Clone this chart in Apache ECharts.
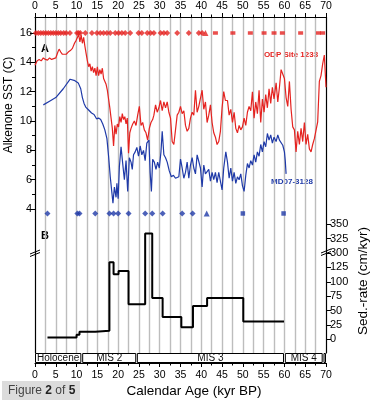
<!DOCTYPE html>
<html>
<head>
<meta charset="utf-8">
<script src="https://cdn.jsdelivr.net/npm/echarts@6/dist/echarts.min.js"></script>
<style>
html,body{margin:0;padding:0;background:#fff;}
#c{width:373px;height:400px;}
</style>
</head>
<body>
<div id="c"></div>
<script>
// ---- Data ----
const redAge = [0,0.5,1.0,1.5,2.0,2.5,3.0,3.5,4.0,4.5,5.0,5.5,5.8,6.2,6.6,7.0,7.5,8.0,8.5,9.0,9.5,9.9,10.2,10.5,10.8,11.1,11.4,11.7,12.0,12.3,12.6,12.9,13.2,13.5,13.8,14.1,14.4,14.7,15.0,15.3,15.6,15.9,16.2,16.5,16.8,17.1,17.4,17.7,18.0,18.3,18.6,18.9,19.2,19.5,19.8,20.1,20.4,20.7,21.0,21.3,21.6,21.9,22.2,22.5,22.8,23.1,23.5,23.9,24.3,24.7,25.1,25.5,25.9,26.3,26.7,27.1,27.5,27.9,28.3,28.6,29.0,29.4,29.8,30.2,30.6,31.0,31.4,31.8,32.2,32.6,33.0,33.4,33.8,34.2,34.6,35.0,35.4,35.8,36.2,36.6,37.0,37.4,37.8,38.2,38.6,39.0,39.4,39.8,40.2,40.6,41.0,41.4,41.8,42.2,42.6,43.0,43.4,43.8,44.2,44.6,45.0,45.4,45.8,46.3,46.7,47.1,47.5,47.9,48.3,48.7,49.1,49.5,49.9,50.3,50.7,51.1,51.5,51.9,52.3,52.7,53.1,53.5,53.9,54.3,54.7,55.1,55.5,55.9,56.3,56.7,57.1,57.5,58.0,58.4,58.8,59.2,59.6,60.0,60.4,60.8,61.2,61.6,62.0,62.4,62.8,63.2,63.6,64.0,64.4,64.8,65.2,65.6,66.0,66.4,66.8,67.2,67.6,68.0,68.4,68.8,69.2,69.6,70.0];
const redSST = [13.8,14.1,14.2,14.1,14.3,14.2,14.15,14.3,14.2,14.25,14.3,14.7,14.9,14.7,14.55,14.5,14.55,14.7,14.8,14.95,15.3,15.5,15.7,15.9,15.4,15.85,15.3,15.7,15.1,14.6,14.1,13.7,13.9,13.4,13.7,13.3,13.6,13.1,13.7,13.1,13.5,13.2,13.6,12.9,13.0,12.5,12.1,11.5,10.9,10.2,9.5,8.3,9.7,9.1,9.8,9.6,10.3,9.9,10.5,10.1,10.3,9.8,10.2,7.8,9.2,9.5,9.8,10.0,9.7,10.4,11.0,9.7,9.9,9.4,9.2,8.7,9.5,9.9,10.1,10.4,11.1,10.6,10.9,11.4,10.7,11.3,10.9,11.3,10.6,10.2,8.6,8.4,9.4,10.4,10.6,11.0,10.5,10.7,9.7,9.3,9.5,10.2,10.6,10.4,12.1,10.6,11.0,10.9,12.1,10.8,11.3,9.9,10.4,11.1,9.9,9.2,8.9,8.4,8.6,9.3,10.9,12.0,11.4,11.4,10.4,10.8,9.9,10.6,9.5,9.2,9.7,9.4,9.6,10.2,9.7,10.6,11.0,10.7,12.0,10.2,11.3,10.5,12.1,9.9,11.5,10.6,11.8,10.9,12.2,11.2,12.3,11.5,12.6,11.3,12.3,13.5,13.4,12.9,11.6,11.0,12.7,10.8,9.6,9.4,7.9,9.3,8.4,9.5,8.6,9.9,8.4,9.1,8.1,7.9,8.4,8.8,8.7,9.95,12.7,13.1,13.9,14.5,12.3];

const blueAge = [2.0,3.5,5.0,6.8,8.45,9.6,10.4,11.0,11.4,11.8,12.2,12.9,13.6,14.2,14.8,15.3,15.8,16.3,16.8,17.3,17.7,18.1,18.5,18.75,19.1,19.5,19.7,20.0,20.3,20.7,21.1,21.5,21.9,22.3,22.7,23.1,23.4,23.7,24.1,24.5,24.9,25.3,25.7,26.1,26.5,26.9,27.4,27.7,28.0,28.3,28.7,29.1,29.5,29.9,30.3,30.6,31.0,31.4,31.8,32.3,32.8,33.3,33.8,34.2,34.6,35.0,35.4,35.8,36.2,36.6,37.0,37.4,37.8,38.2,38.6,39.0,39.4,39.8,40.2,40.6,41.0,41.4,41.8,42.2,42.6,43.0,43.4,43.8,44.2,44.6,45.0,45.4,45.9,46.3,46.7,47.1,47.5,47.9,48.3,48.7,49.1,49.5,49.9,50.3,50.7,51.1,51.5,51.9,52.3,52.7,53.1,53.5,53.9,54.3,54.7,55.1,55.5,55.9,56.3,56.7,57.1,57.5,58.0,58.4,58.8,59.2,59.6,60.0,60.2,60.4];
const blueSST = [11.1,11.35,11.6,12.2,12.85,12.75,12.6,12.2,11.6,11.2,10.95,10.75,10.55,10.45,10.15,10.2,10.1,9.8,9.4,8.8,7.6,6.2,5.1,4.4,5.5,4.8,5.75,4.7,6.9,8.25,7.1,6.0,7.3,5.2,7.5,7.2,6.7,7.7,7.9,8.2,7.6,8.3,7.7,8.0,7.3,8.5,8.7,6.5,5.2,7.4,7.2,6.7,7.2,6.8,7.9,9.3,7.7,7.5,7.2,6.6,6.2,6.3,6.1,6.0,6.2,7.4,6.8,6.1,6.5,7.2,6.1,7.0,7.5,6.8,6.4,7.7,7.8,6.8,5.5,7.0,6.4,6.3,6.7,5.9,6.5,6.0,6.5,5.8,6.5,6.4,5.3,6.8,7.9,7.2,6.1,6.8,5.9,6.5,5.75,6.2,6.0,6.4,5.6,5.2,6.3,7.1,6.8,7.3,7.0,7.7,7.2,7.9,7.6,8.4,7.9,8.6,8.25,9.15,8.7,9.05,8.5,8.9,8.6,9.05,8.7,8.6,8.35,7.9,7.3,6.4];

// age-control points (kyr) for each core
const redDiamondAge = [0.2,0.8,1.4,2.0,2.6,3.2,3.8,4.4,5.0,5.6,6.2,6.9,7.5,8.4,10.1,10.5,10.9,12.1,13.7,14.9,15.7,16.5,17.3,18.1,19.3,20.1,20.9,21.7,22.9,24.9,25.7,27.0,27.8,28.6,30.2,31.0,31.8,34.2,37.0,39.4,40.2];
const redTriangleAge = [41.0];
const redSquareAge = [43.4,47.6,51.8,55.1,57.5,59.5,63.9,68.2,69.2];
const redMarkerLevel = 16;
const blueDiamondAge = [3.0,10.2,10.7,14.5,17.9,18.9,20.0,22.5,26.5,28.2,30.7,35.4,37.9];
const blueTriangleAge = [41.3];
const blueSquareAge = [50.0,59.8];
const blueMarkerLevel = 3.7;

// sedimentation rate steps: edges (kyr) and rates (cm/kyr)
const sedEdges = [3.0,10.0,10.7,14.5,17.9,18.9,20.1,22.5,26.5,28.2,30.7,35.2,38.0,41.4,50.1,59.9];
const sedRates = [3,8,13,15,134,113,119,61,334,72,39,21,58,72,31];

// MIS stages
const misNames = ['Holocene','MIS 2','MIS 3','MIS 4',''];
const misStart = [0,11.35,24.5,60.1,69.4];
const misEnd   = [11.15,24.35,59.9,69.2,70];

// axis tick values
const sstTicks = [4,6,8,10,12,14,16];
const sstMinorTicks = [5,7,9,11,13,15];
const sedTicks = [0,25,50,75,100,125,300,325,350];

// broken sed-rate axis: values above the break shift down by 150
const BREAK = 150;
const brk = v => (v > 200 ? v - BREAK : v);
const unbrk = v => (v > 137.5 ? v + BREAK : v);

const zip = (a, b) => a.map((x, i) => [x, b[i]]);
const sedLine = [];
sedRates.forEach((r, i) => { sedLine.push([sedEdges[i], brk(r)]); sedLine.push([sedEdges[i + 1], brk(r)]); });

const FONT = '"Liberation Sans", Arial, sans-serif';
const RED = '#e52320';
const BLUE = '#1f3aa8';
const GRIDC = '#bdbdbd';

const chart = echarts.init(document.getElementById('c'), null, {renderer: 'canvas'});

const option = {
  animation: false,
  backgroundColor: '#fff',
  textStyle: {fontFamily: FONT},
  grid: [
    {left: 35, top: 17, width: 291, height: 336},
    {left: 35, top: 353, width: 291, height: 10}
  ],
  xAxis: [
    {
      type: 'value', gridIndex: 0, position: 'top', min: 0, max: 70, interval: 5,
      axisLine: {show: true, onZero: false, lineStyle: {color: '#000', width: 1.2}},
      axisTick: {show: true, length: 4, lineStyle: {color: '#000'}},
      minorTick: {show: true, splitNumber: 2, length: 2.5, lineStyle: {color: '#000'}},
      axisLabel: {show: true, fontSize: 10.5, color: '#000', margin: 5, fontFamily: FONT},
      splitLine: {show: true, showMinLine: false, showMaxLine: false, lineStyle: {color: GRIDC, width: 1.4}},
      minorSplitLine: {show: true, lineStyle: {color: GRIDC, width: 1.4}}
    },
    {
      type: 'value', gridIndex: 1, position: 'bottom', min: 0, max: 70, interval: 5,
      axisLine: {show: true, onZero: false, lineStyle: {color: '#000', width: 1.2}},
      axisTick: {show: true, length: 4, lineStyle: {color: '#000'}},
      minorTick: {show: true, splitNumber: 2, length: 2.5, lineStyle: {color: '#000'}},
      axisLabel: {show: true, fontSize: 10.5, color: '#000', margin: 7, fontFamily: FONT},
      splitLine: {show: false}
    }
  ],
  yAxis: [
    {
      type: 'value', gridIndex: 0, position: 'left', min: -5.81, max: 17.09,
      axisLine: {show: true, onZero: false, lineStyle: {color: '#000', width: 1.2}},
      axisTick: {show: true, length: 5, customValues: sstTicks, lineStyle: {color: '#000'}},
      axisLabel: {show: true, customValues: sstTicks, fontSize: 11, color: '#000', margin: 3, fontFamily: FONT},
      splitLine: {show: false}
    },
    {
      type: 'value', gridIndex: 0, position: 'right', min: -23.8, max: 560.5,
      axisLine: {show: true, onZero: false, lineStyle: {color: '#000', width: 1.2}},
      axisTick: {show: true, length: 5, customValues: sedTicks.map(brk), lineStyle: {color: '#000'}},
      axisLabel: {show: true, customValues: sedTicks.map(brk), fontSize: 11, color: '#000', margin: 4, fontFamily: FONT,
        formatter: v => String(unbrk(v))},
      splitLine: {show: false}
    },
    {
      type: 'value', gridIndex: 0, position: 'left', min: -5.81, max: 17.09,
      axisLine: {show: false, onZero: false},
      axisTick: {show: true, length: 3, customValues: sstMinorTicks, lineStyle: {color: '#000'}},
      axisLabel: {show: false},
      splitLine: {show: false}
    },
    {
      type: 'value', gridIndex: 1, min: 0, max: 1, show: false
    }
  ],
  series: [
    {
      type: 'line', name: 'ODP Site 1233', xAxisIndex: 0, yAxisIndex: 0,
      data: zip(redAge, redSST), showSymbol: false, symbol: 'none',
      lineStyle: {color: RED, width: 1.2}, z: 3
    },
    {
      type: 'line', name: 'MD07-3128', xAxisIndex: 0, yAxisIndex: 0,
      data: zip(blueAge, blueSST), showSymbol: false, symbol: 'none',
      lineStyle: {color: BLUE, width: 1.2}, z: 3
    },
    {
      type: 'scatter', xAxisIndex: 0, yAxisIndex: 0, symbol: 'diamond', symbolSize: 6,
      itemStyle: {color: RED}, data: redDiamondAge.map(a => [a, redMarkerLevel]), z: 4
    },
    {
      type: 'scatter', xAxisIndex: 0, yAxisIndex: 0, symbol: 'triangle', symbolSize: 6,
      itemStyle: {color: RED}, data: redTriangleAge.map(a => [a, redMarkerLevel]), z: 4
    },
    {
      type: 'scatter', xAxisIndex: 0, yAxisIndex: 0, symbol: 'rect', symbolSize: [5, 3.5],
      itemStyle: {color: RED}, data: redSquareAge.map(a => [a, redMarkerLevel]), z: 4
    },
    {
      type: 'scatter', xAxisIndex: 0, yAxisIndex: 0, symbol: 'diamond', symbolSize: 6,
      itemStyle: {color: BLUE}, data: blueDiamondAge.map(a => [a, blueMarkerLevel]), z: 4
    },
    {
      type: 'scatter', xAxisIndex: 0, yAxisIndex: 0, symbol: 'triangle', symbolSize: 6,
      itemStyle: {color: BLUE}, data: blueTriangleAge.map(a => [a, blueMarkerLevel]), z: 4
    },
    {
      type: 'scatter', xAxisIndex: 0, yAxisIndex: 0, symbol: 'rect', symbolSize: 4.5,
      itemStyle: {color: BLUE}, data: blueSquareAge.map(a => [a, blueMarkerLevel]), z: 4
    },
    {
      type: 'line', name: 'Sed.-rate', xAxisIndex: 0, yAxisIndex: 1,
      data: sedLine, showSymbol: false, symbol: 'none',
      lineStyle: {color: '#000', width: 2}, z: 3
    },
    {
      type: 'custom', xAxisIndex: 1, yAxisIndex: 3,
      data: misNames.map((n, i) => [misStart[i], misEnd[i], n]),
      renderItem: function (params, api) {
        const p0 = api.coord([api.value(0), 1]);
        const p1 = api.coord([api.value(1), 0]);
        const name = misNames[params.dataIndex];
        return {
          type: 'group',
          children: [
            {type: 'rect', shape: {x: p0[0] + 0.5, y: p0[1] + 0.5, width: p1[0] - p0[0] - 1, height: p1[1] - p0[1] - 1},
              style: {fill: '#fff', stroke: '#000', lineWidth: 1}},
            {type: 'text', x: (p0[0] + p1[0]) / 2, y: (p0[1] + p1[1]) / 2 + 0.5,
              style: {text: name, fill: '#111', font: '10px ' + FONT, align: 'center', verticalAlign: 'middle'}}
          ]
        };
      },
      z: 5
    }
  ],
  graphic: [
    {type: 'text', left: 41, top: 43, style: {text: 'A', font: 'bold 11px ' + FONT, fill: '#000'}},
    {type: 'text', left: 41, top: 230, style: {text: 'B', font: 'bold 11px ' + FONT, fill: '#000'}},
    {type: 'text', x: 291, y: 55, style: {text: 'ODP Site 1233', font: 'bold 8px ' + FONT, fill: RED, align: 'center', verticalAlign: 'middle'}},
    {type: 'text', x: 292, y: 182, style: {text: 'MD07-3128', font: 'bold 8px ' + FONT, fill: BLUE, align: 'center', verticalAlign: 'middle'}},
    {type: 'text', x: 9, y: 105, rotation: Math.PI / 2, style: {text: 'Alkenone SST (C)', font: '12px ' + FONT, fill: '#000', align: 'center', verticalAlign: 'middle'}},
    {type: 'text', x: 363, y: 281, rotation: Math.PI / 2, style: {text: 'Sed.-rate (cm/kyr)', font: '13.5px ' + FONT, fill: '#000', align: 'center', verticalAlign: 'middle'}},
    {type: 'text', x: 194, y: 391, style: {text: 'Calendar Age (kyr BP)', font: '13.5px ' + FONT, fill: '#000', align: 'center', verticalAlign: 'middle'}},
    // axis break marks
    {type: 'line', shape: {x1: 30, y1: 254, x2: 40, y2: 250}, style: {stroke: '#000', lineWidth: 1}},
    {type: 'line', shape: {x1: 30, y1: 256.5, x2: 40, y2: 252.5}, style: {stroke: '#000', lineWidth: 1}},
    {type: 'line', shape: {x1: 321, y1: 253, x2: 331, y2: 249}, style: {stroke: '#000', lineWidth: 1}},
    {type: 'line', shape: {x1: 321, y1: 255.5, x2: 331, y2: 251.5}, style: {stroke: '#000', lineWidth: 1}},
    // caption box
    {type: 'rect', shape: {x: 2, y: 381, width: 78, height: 19}, style: {fill: '#dcdcdc'}},
    {type: 'text', x: 8, y: 391, style: {
      rich: {n: {font: '12px ' + FONT, fill: '#444'}, b: {font: 'bold 12px ' + FONT, fill: '#222'}},
      text: '{n|Figure }{b|2}{n| of }{b|5}', verticalAlign: 'middle'}}
  ]
};
chart.setOption(option);
</script>
</body>
</html>
